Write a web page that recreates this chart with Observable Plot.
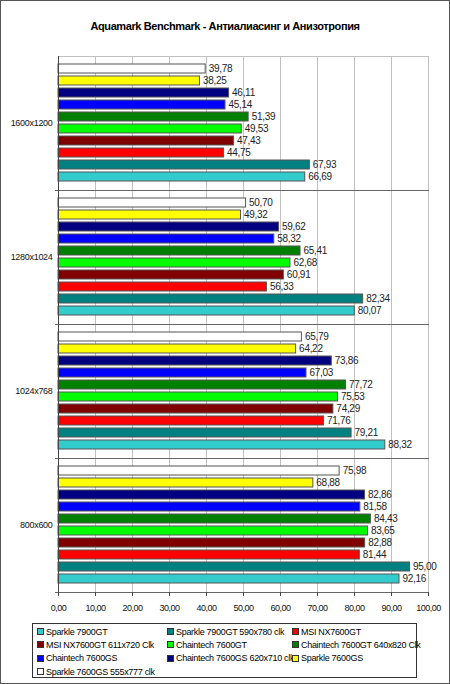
<!DOCTYPE html>
<html>
<head>
<meta charset="utf-8">
<script src="https://cdn.jsdelivr.net/npm/d3@7"></script>
<script src="https://cdn.jsdelivr.net/npm/@observablehq/plot@0.6"></script>
<style>
  html, body { margin: 0; padding: 0; background: #fff; }
  #chart {
    position: relative; width: 450px; height: 684px; box-sizing: border-box;
    outline: 1px solid #555; outline-offset: -1px;
    font-family: "Liberation Sans", Arial, sans-serif; background: #fff;
  }
  #title {
    height: 40px; line-height: 14px; padding-top: 19px; box-sizing: border-box;
    text-align: center; font-weight: bold; font-size: 11px; letter-spacing: -0.4px; color: #000;
  }
  #plot svg { display: block; }
  #plot g[aria-label="x-axis tick label"] text { font-size: 9px; letter-spacing: -0.5px; }
  #plot g[aria-label="fy-axis tick label"] text { font-size: 9px; letter-spacing: -0.3px; }
  #plot g[aria-label="text"] text { letter-spacing: -0.3px; }
  #legend {
    position: absolute; left: 32px; top: 623px; width: 385px; height: 55px;
    box-sizing: border-box; border: 1px solid #333;
    display: grid; grid-template-columns: 130px 125px auto;
    grid-auto-rows: 13.3px; padding: 1px 0 0 4px; font-size: 9px; letter-spacing: -0.3px; color: #000;
  }
  .item { display: flex; align-items: center; white-space: nowrap; }
  .sw { width: 5px; height: 5px; border: 1px solid #333; margin-right: 2px; flex: none; }
</style>
</head>
<body>
<div id="chart">
  <div id="title"></div>
  <div id="plot"></div>
  <div id="legend"></div>
</div>
<script>
const title = "Aquamark Benchmark - Антиалиасинг и Анизотропия";
const categories = ["1600x1200", "1280x1024", "1024x768", "800x600"];
const series = [
  "Sparkle 7900GT", "Sparkle 7900GT 590x780 clk", "MSI NX7600GT",
  "MSI NX7600GT 611x720 Clk", "Chaintech 7600GT", "Chaintech 7600GT 640x820 Clk",
  "Chaintech 7600GS", "Chaintech 7600GS 620x710 clk", "Sparkle 7600GS",
  "Sparkle 7600GS 555x777 clk"
];
const colors = ["#33CCCC", "#008080", "#FF0000", "#800000", "#00FF00", "#008000",
                "#0000FF", "#000080", "#FFFF00", "#FFFFFF"];
// values per category, in series order
const v1600 = [66.69, 67.93, 44.75, 47.43, 49.53, 51.39, 45.14, 46.11, 38.25, 39.78];
const v1280 = [80.07, 82.34, 56.33, 60.91, 62.68, 65.41, 58.32, 59.62, 49.32, 50.70];
const v1024 = [88.32, 79.21, 71.76, 74.29, 75.53, 77.72, 67.03, 73.86, 64.22, 65.79];
const v800  = [92.16, 95.00, 81.44, 82.88, 83.65, 84.43, 81.58, 82.86, 68.88, 75.98];
const xTicks = [0, 10, 20, 30, 40, 50, 60, 70, 80, 90, 100];

const valuesByCat = [v1600, v1280, v1024, v800];
const data = [];
categories.forEach((c, ci) => series.forEach((s, si) => data.push({cat: c, series: s, value: valuesByCat[ci][si]})));

const fmt = d => d3.format(".2f")(d).replace(".", ",");

document.getElementById("title").textContent = title;

const plot = Plot.plot({
  width: 450,
  height: 580,
  marginTop: 15,
  marginBottom: 28,
  marginLeft: 58,
  marginRight: 22,
  style: {fontFamily: "'Liberation Sans', Arial, sans-serif", fontSize: "10px", background: "transparent"},
  x: {domain: [0, 100], label: null},
  y: {domain: series.slice().reverse(), paddingInner: 0.21, paddingOuter: 0.42, axis: null},
  fy: {domain: categories, padding: 0, label: null, axis: null},
  color: {domain: series, range: colors},
  marks: [
    Plot.gridX(xTicks, {stroke: "#c0c0c0", strokeOpacity: 1}),
    Plot.frame({anchor: "top", facet: "super", stroke: "#c0c0c0"}),
    Plot.barX(data, {x: "value", y: "series", fy: "cat", fill: "series", stroke: "#555", strokeWidth: 1}),
    Plot.text(data, {x: "value", y: "series", fy: "cat", text: d => fmt(d.value), dx: 3, textAnchor: "start", fill: "#222", fontSize: 10}),
    Plot.frame({anchor: "bottom", stroke: "#666", insetLeft: -3}),
    Plot.ruleX([0], {stroke: "#444"}),
    Plot.axisX({ticks: xTicks, tickFormat: fmt, tickSize: 4, tickPadding: 8, stroke: "#444", fill: "#111", label: null}),
    Plot.axisFy({anchor: "left", tickSize: 0, tickPadding: 6, fill: "#111", label: null})
  ]
});
document.getElementById("plot").appendChild(plot);

const legend = document.getElementById("legend");
series.forEach((s, i) => {
  const it = document.createElement("div");
  it.className = "item";
  const sw = document.createElement("span");
  sw.className = "sw";
  sw.style.background = colors[i];
  const t = document.createElement("span");
  t.textContent = s;
  it.appendChild(sw); it.appendChild(t);
  legend.appendChild(it);
});
</script>
</body>
</html>
